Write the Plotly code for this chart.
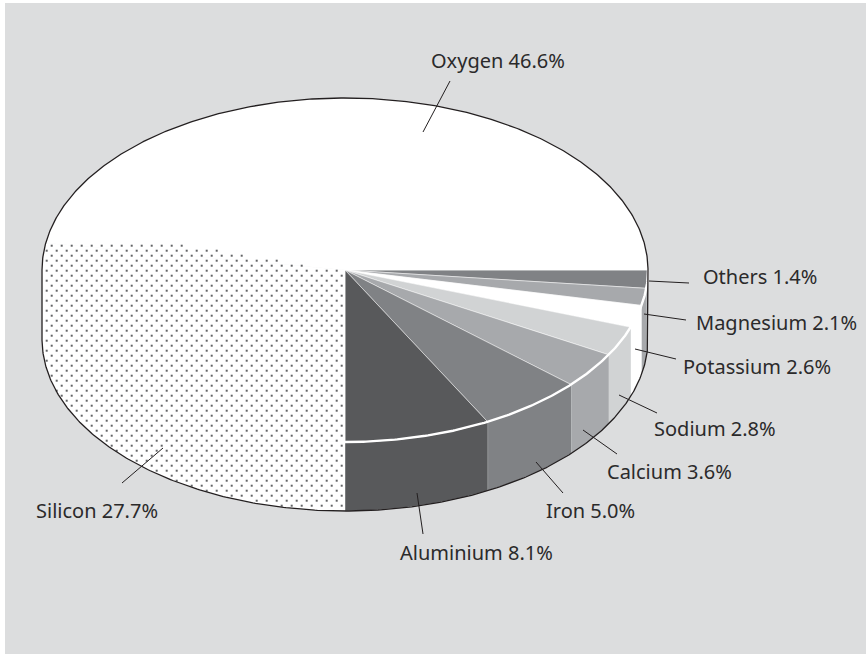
import numpy as np
import plotly.graph_objects as go

# Printed labels and their values
elements = ["Others", "Magnesium", "Potassium", "Sodium", "Calcium", "Iron",
            "Aluminium", "Silicon", "Oxygen"]
printed_pct = [1.4, 2.1, 2.6, 2.8, 3.6, 5.0, 8.1, 27.7, 46.6]
drawn_pct = [1.7, 1.6, 2.1, 2.8, 3.4, 5.6, 7.8, 27.5, 47.5]

top_colors = ["#808285", "#a7a9ac", "#ffffff", "#d1d3d4", "#a7a9ac", "#808285",
              "#58595b", "#ffffff", "#ffffff"]
side_colors = ["#a7a9ac", "#a7a9ac", "#ffffff", "#d1d3d4", "#a7a9ac", "#808285",
               "#58595b", "#ffffff", "#ffffff"]

# Layout (pixel-based axes)
W, H = 866, 654
CX, CY, RX, RY, DEPTH = 345, 270, 303, 172, 69
BG = "#dcddde"
FONT = dict(family="Noto Sans", size=20, color="#2b2a2b")
label_pos = {"Oxygen": (429, 60), "Others": (701, 276), "Magnesium": (694, 322),
             "Potassium": (681, 366), "Sodium": (652, 428), "Calcium": (605, 471),
             "Iron": (544, 510), "Aluminium": (398, 552), "Silicon": (34, 510)}
leaders = {"Oxygen": ((450, 81), (423, 132)), "Others": ((649, 281), (689, 283)),
           "Magnesium": ((644, 314), (686, 320)), "Potassium": ((635, 349), (676, 359)),
           "Sodium": ((619, 395), (657, 413)), "Calcium": ((583, 430), (617, 454)),
           "Iron": ((536, 462), (563, 493)), "Aluminium": ((417, 493), (423, 534)),
           "Silicon": ((163, 448), (122, 483))}


def arc(t1, t2, dy=0, n=None):
    n = n or max(2, int(abs(t2 - t1)) * 2 + 2)
    t = np.radians(np.linspace(t1, t2, n))
    return CX + RX * np.cos(t), CY + dy + RY * np.sin(t)


fig = go.Figure()
edges = np.concatenate([[0], np.cumsum(drawn_pct) * 3.6])


def poly(x, y, color, line=0.6, line_color=None):
    fig.add_trace(go.Scatter(x=x, y=y, mode="lines", fill="toself", fillcolor=color,
                             line=dict(width=line, color=line_color or color),
                             hoverinfo="skip", showlegend=False))


# Side walls (visible front half only)
for i in range(len(elements)):
    t1, t2 = edges[i], min(edges[i + 1], 180)
    if t1 >= 180:
        continue
    x1, y1 = arc(t1, t2)
    x2, y2 = arc(t2, t1, DEPTH)
    poly(np.r_[x1, x2], np.r_[y1, y2], side_colors[i],
         line_color="#d1d3d4" if side_colors[i] != "#ffffff" else "#ffffff")

# Top wedges
for i in range(len(elements)):
    x, y = arc(edges[i], edges[i + 1])
    poly(np.r_[CX, x, CX], np.r_[CY, y, CY], top_colors[i],
         line=0.5, line_color="#ffffff" if i < 7 else top_colors[i])

# White seam between the top face and the walls
sx, sy = arc(0, 90)
fig.add_trace(go.Scatter(x=sx, y=sy, mode="lines", line=dict(color="#ffffff", width=2.4),
                         hoverinfo="skip", showlegend=False))

# Stipple on the Silicon wedge and wall (staggered dots)
t_end = np.radians(edges[8])
rows = np.arange(245.7, 512, 5.0)
dx, dy = [], []
for k, yy in enumerate(rows):
    xs = np.arange(46.7 + (5 if k % 2 == 0 else 0), CX - 1, 10.0)
    u = (xs - CX) / RX
    yb = CY + DEPTH + RY * np.sqrt(np.clip(1 - u ** 2, 0, 1))
    yt = CY + (xs - CX) * np.tan(t_end)
    keep = (np.abs(u) < 0.995) & (yy < yb - 1) & (yy > yt + 1)
    dx.extend(xs[keep]); dy.extend([yy] * int(keep.sum()))
fig.add_trace(go.Scatter(x=dx, y=dy, mode="markers",
                         marker=dict(symbol="square", size=2, color="#636466", line=dict(width=0)),
                         hoverinfo="skip", showlegend=False))

# Outline: top rim and the lower silhouette
ox1, oy1 = arc(180, 360)
ox2, oy2 = arc(0, 180, DEPTH)
fig.add_trace(go.Scatter(x=np.r_[ox1, ox2, ox1[0]], y=np.r_[oy1, oy2, oy1[0]], mode="lines",
                         line=dict(color="#231f20", width=1.3),
                         hoverinfo="skip", showlegend=False))

# Leaders and labels
for name, val in zip(elements, printed_pct):
    (x0, y0), (x1, y1) = leaders[name]
    fig.add_trace(go.Scatter(x=[x0, x1], y=[y0, y1], mode="lines",
                             line=dict(color="#231f20", width=1),
                             hoverinfo="skip", showlegend=False))
    lx, ly = label_pos[name]
    fig.add_annotation(x=lx, y=ly, text=f"{name} {val:.1f}%", showarrow=False,
                       xanchor="left", yanchor="middle", font=FONT, xref="x", yref="y")

fig.add_shape(type="rect", x0=5, y0=3, x1=W, y1=H, fillcolor=BG, line=dict(width=0),
              layer="below", xref="x", yref="y")
fig.update_layout(width=W, height=H, margin=dict(l=0, r=0, t=0, b=0),
                  paper_bgcolor="#ffffff", plot_bgcolor="#ffffff", showlegend=False,
                  xaxis=dict(range=[0, W], visible=False, fixedrange=True),
                  yaxis=dict(range=[H, 0], visible=False, fixedrange=True))
fig.write_html("out.html", config={"displayModeBar": False},
               post_script="document.body.style.margin='0';document.body.style.overflow='hidden';")
